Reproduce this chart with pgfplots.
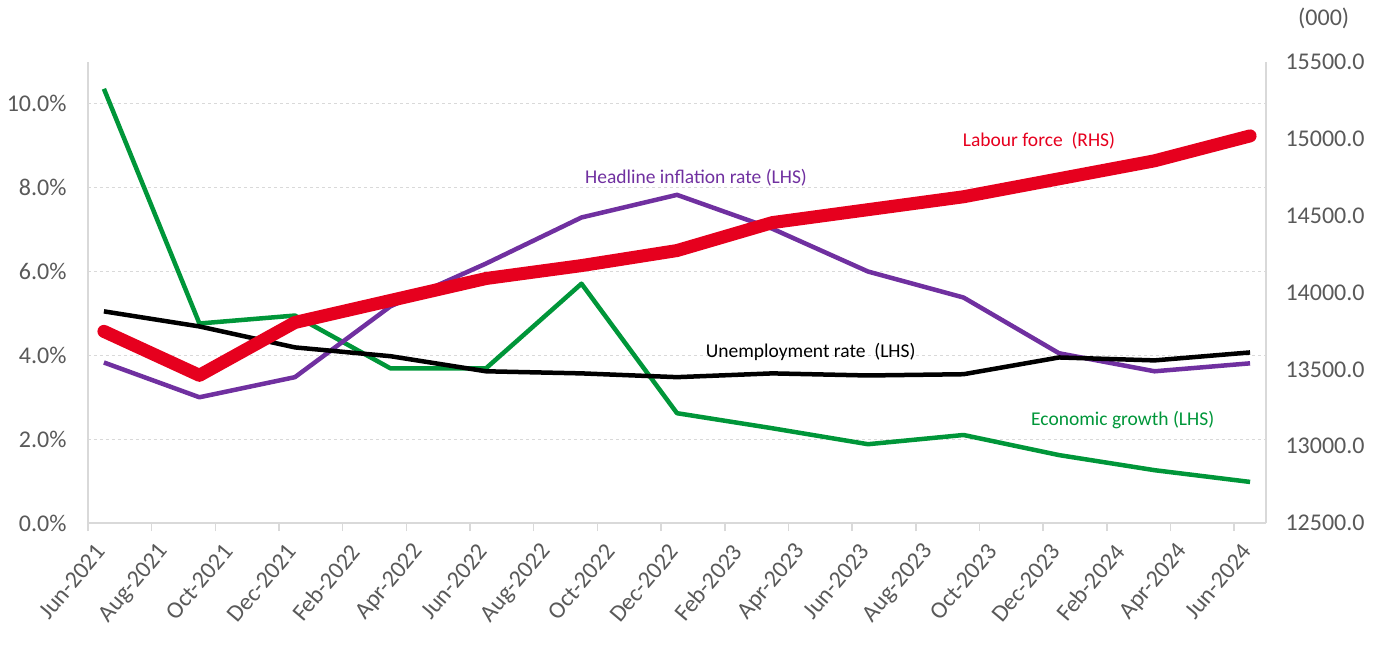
\documentclass[border=0pt]{standalone}
\usepackage{fontspec}
\setmainfont{Carlito}
\usepackage{pgfplots}
\usepackage{pgfplotstable}
\pgfplotsset{compat=1.18}

\definecolor{growth}{RGB}{0,150,57}
\definecolor{infl}{RGB}{112,48,160}
\definecolor{labour}{RGB}{230,0,30}
\definecolor{axgray}{RGB}{217,217,217}
\definecolor{txtgray}{RGB}{89,89,89}

% months since Jun-2021; quarterly observations
\pgfplotstableread{
m     growth infl unemp labour
0.5   10.36  3.83 5.05  13747
3.5   4.76   3.00 4.69  13461
6.5   4.95   3.48 4.19  13805
9.5   3.69   5.17 3.98  13948
12.5  3.69   6.19 3.62  14091
15.5  5.71   7.29 3.57  14175
18.5  2.62   7.83 3.48  14273
21.5  2.26   7.02 3.57  14455
24.5  1.88   6.00 3.52  14539
27.5  2.10   5.38 3.55  14623
30.5  1.62   4.05 3.95  14740
33.5  1.26   3.62 3.88  14857
36.5  0.98   3.81 4.07  15019
}\data

\pgfplotsset{
  base/.style={
    scale only axis, width=1178pt, height=461pt,
    xmin=0, xmax=37,
    /pgf/number format/assume math mode=true,
    ticklabel style={font=\fontsize{24}{27}\selectfont, text=txtgray},
    axis line style={axgray, line width=1.5pt},
  },
}
\tikzset{lab/.style={font=\fontsize{19.5}{22}\selectfont}}

\begin{document}
\begin{tikzpicture}
\useasboundingbox (-88pt,-132pt) rectangle (1295pt,523pt);
\begin{axis}[base,
  axis x line*=bottom, axis y line*=left,
  ymin=0, ymax=11,
  ytick={0,2,...,10},
  ymajorgrids,
  grid style={axgray, dashed, line width=1pt},
  xtick={0,2,...,36},
  xticklabels={Jun-2021,Aug-2021,Oct-2021,Dec-2021,Feb-2022,Apr-2022,Jun-2022,Aug-2022,Oct-2022,Dec-2022,Feb-2023,Apr-2023,Jun-2023,Aug-2023,Oct-2023,Dec-2023,Feb-2024,Apr-2024,Jun-2024},
  xtick align=outside,
  major tick length=8pt,
  xtick style={axgray, line width=1.5pt},
  ytick style={draw=none},
  xticklabel style={xshift=15pt, yshift=-14pt, rotate=50, anchor=east},
  yticklabel style={xshift=-18pt},
  yticklabel={\pgfmathprintnumber[fixed, fixed zerofill, precision=1]{\tick}\%},
  clip=false,
]
\addplot[growth, line width=4.5pt, line join=round] table[x=m, y=growth] {\data};
\addplot[infl, line width=4.5pt, line join=round] table[x=m, y=infl] {\data};
\addplot[black, line width=4.5pt, line join=round] table[x=m, y=unemp] {\data};

\node[text=labour, lab] at (axis cs:29.87,9.12) {Labour force~ (RHS)};
\node[text=infl, lab] at (axis cs:19.1,8.24) {Headline inflation rate (LHS)};
\node[text=black, lab] at (axis cs:22.7,4.07) {Unemployment rate~ (LHS)};
\node[text=growth, lab] at (axis cs:32.5,2.45) {Economic growth (LHS)};
\end{axis}

\begin{axis}[base,
  axis x line=none, axis y line*=right,
  ymin=12500, ymax=15500,
  ytick={12500,13000,...,15500},
  scaled y ticks=false,
  ytick style={draw=none},
  yticklabel style={xshift=16pt},
  yticklabel={\pgfmathprintnumber[fixed, fixed zerofill, precision=1, 1000 sep={}]{\tick}},
  clip=false,
]
\addplot[labour, line width=13pt, line join=round, line cap=round] table[x=m, y=labour] {\data};
\node[text=txtgray, font=\fontsize{24}{27}\selectfont] at (rel axis cs:1.049,1.095) {(000)};
\end{axis}
\end{tikzpicture}
\end{document}
